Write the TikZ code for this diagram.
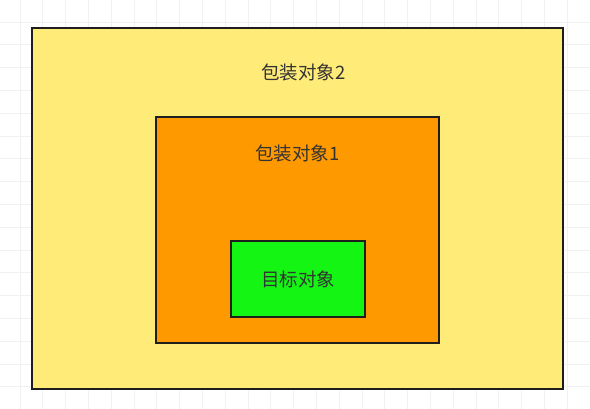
\documentclass[tikz,border=0pt]{standalone}
\usepackage{fontspec}
\newfontfamily\cjk{Noto Sans CJK SC}
\usepackage{tikz}
\usetikzlibrary{positioning}
\definecolor{clrGrid}{RGB}{241,241,244}
\definecolor{clrBorders}{RGB}{30,30,30}
\definecolor{clrYellow}{RGB}{255,236,120}
\definecolor{clrOrange}{RGB}{255,153,0}
\definecolor{clrGreen}{RGB}{20,245,20}
\tikzstyle{gridline}=[clrGrid, line width=0.8pt]
\tikzstyle{box_style0}=[draw=clrBorders, line width=1.8pt, anchor=center, inner sep=0pt]
\tikzstyle{wrapper2}=[box_style0, fill=clrYellow, minimum width=531pt, minimum height=361pt]
\tikzstyle{wrapper1}=[box_style0, fill=clrOrange, minimum width=283pt, minimum height=226pt]
\tikzstyle{target}=[box_style0, fill=clrGreen, minimum width=134pt, minimum height=76pt]
\tikzstyle{label}=[font=\cjk\fontsize{18.5}{22}\selectfont, text=black!80, inner sep=0pt]

\begin{document}
\begin{tikzpicture}[x=1pt, y=-1pt]
		\useasboundingbox (0,0) rectangle (590,409) ;
		\fill[white] (0,0) rectangle (590,409) ;

		% background grid
		\foreach \i in {0,...,25} {
			\draw[gridline] (20+22.8*\i,0) -- (20+22.8*\i,409) ;
		}
		\foreach \j in {0,...,17} {
			\draw[gridline] (0,-0.8+22.8*\j) -- (590,-0.8+22.8*\j) ;
		}

		\node[wrapper2] (W2) at (297.5,208.5) {} ;
		\node[label, below=45pt of W2.north, xshift=6pt, anchor=center] (L2) {包装对象2} ;

		\node[wrapper1] (W1) at (297.5,230) {} ;
		\node[label, below=37pt of W1.north, anchor=center] (L1) {包装对象1} ;

		\node[target] (T) at (298,279) {} ;
		\node[label] (LT) at (T.center) {目标对象} ;

	\end{tikzpicture}
\end{document}
